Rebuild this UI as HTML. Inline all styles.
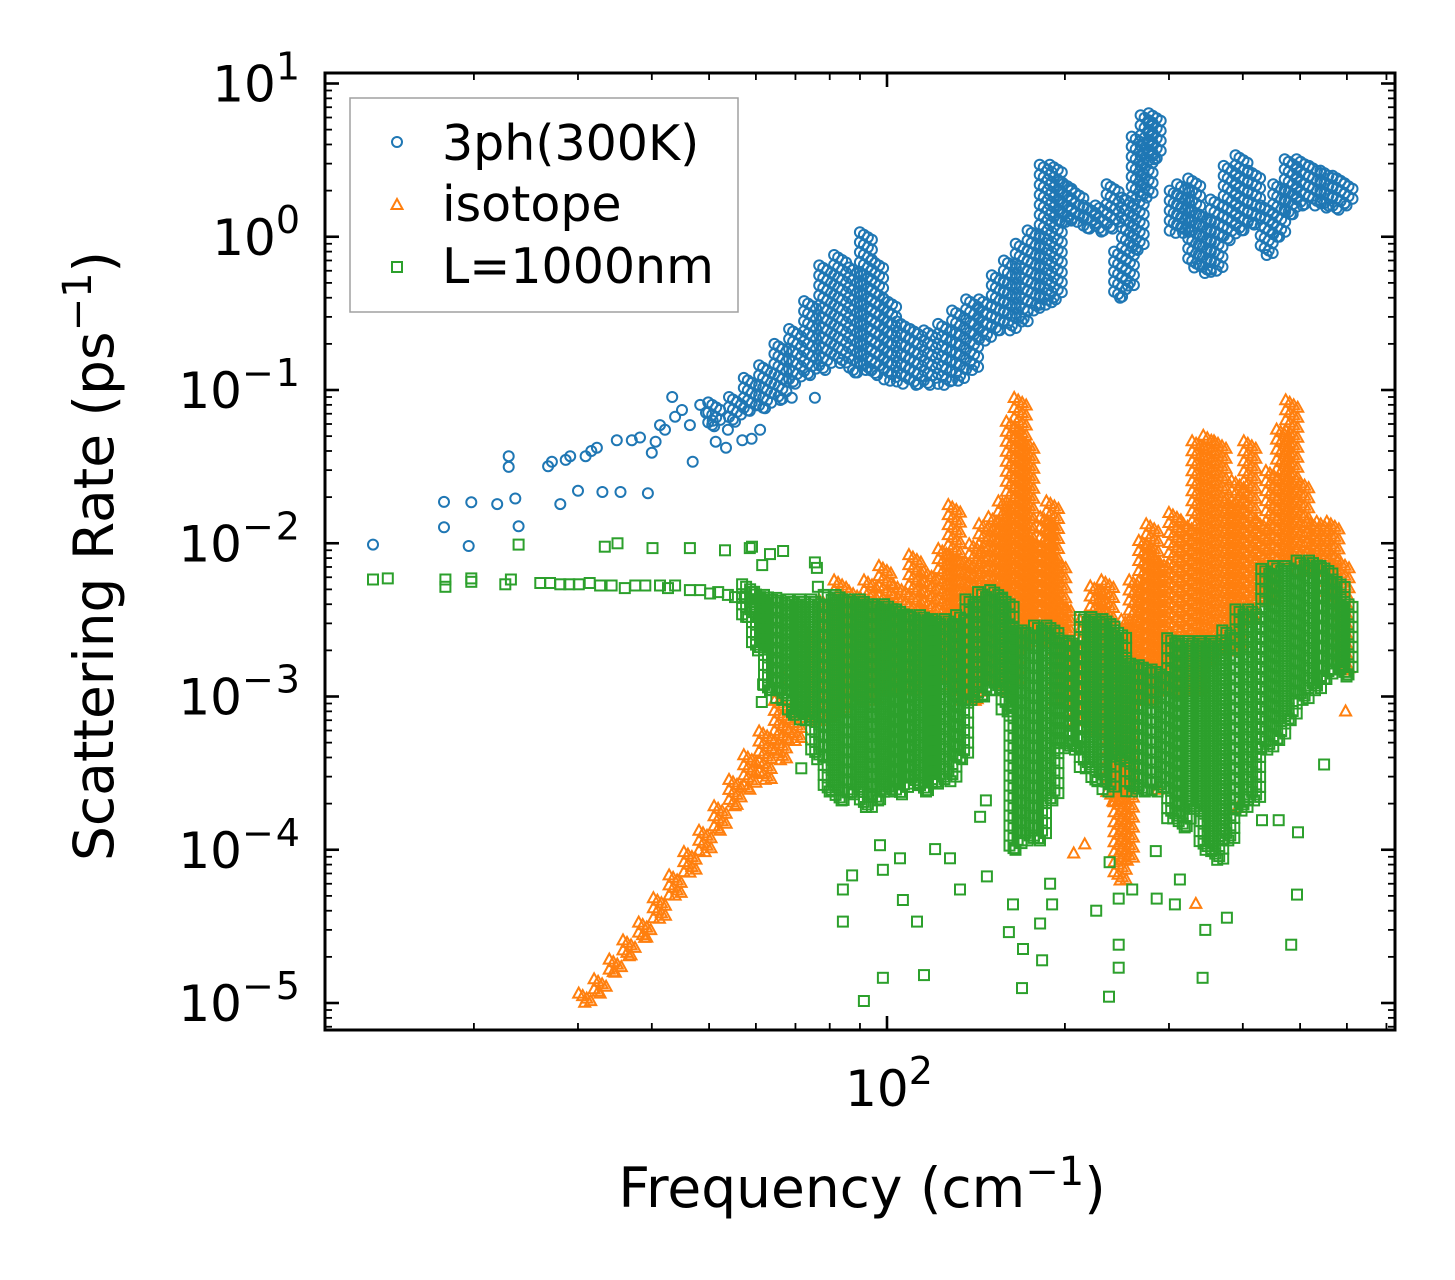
<!DOCTYPE html>
<html><head><meta charset="utf-8"><style>
html,body{margin:0;padding:0;background:#fff;}
svg{display:block;font-family:"DejaVu Sans","Liberation Sans",sans-serif;}
</style></head><body>
<svg id="chart" width="1455" height="1280" viewBox="0 0 1455 1280" xmlns="http://www.w3.org/2000/svg">
<rect width="1455" height="1280" fill="#fff"/>
<g id="marks"></g>
<g id="axes"></g>
<g>
<rect x="350" y="98" width="388" height="214" fill="#fff" stroke="#a0a0a0" stroke-width="1.5"/>
<circle cx="397" cy="142" r="5" fill="none" stroke="#1f77b4" stroke-width="2"/>
<text x="442" y="160" font-size="49">3ph(300K)</text>
<polygon points="397,199 402.5,209 391.5,209" fill="none" stroke="#ff7f0e" stroke-width="2"/>
<text x="442" y="221" font-size="49">isotope</text>
<rect x="392" y="262" width="10" height="10" fill="none" stroke="#2ca02c" stroke-width="2"/>
<text x="442" y="283" font-size="49">L=1000nm</text>
</g>
<text x="862" y="1207" font-size="55" text-anchor="middle">Frequency (cm<tspan dy="-22" font-size="40">−1</tspan><tspan dy="22">)</tspan></text>
<text transform="translate(113,556) rotate(-90)" font-size="55" text-anchor="middle">Scattering Rate (ps<tspan dy="-22" font-size="40">−1</tspan><tspan dy="22">)</tspan></text>
</svg>
<script>
// ---- data (frequency in cm^-1, rate in ps^-1) ----
const blueBandF=[51,55.3,58.6,62.2,66,69.9,74.1,78.6,83.3,88.3,92.1,96.2,101.2,106.4,112,118.2,124.9,131.9,139.3,146.5,154,161.4,169,177,185.6,193,200.5,210,220,230.6,240.8,248,255.6,265.6,275,283.8,308,317,331,345,361,380,398,418,439,461,482,505,530,554,581,599];
const blueBandHi=[0.083,0.09,0.12,0.145,0.2,0.25,0.38,0.65,0.76,0.63,1.07,0.7,0.39,0.28,0.25,0.245,0.27,0.33,0.39,0.39,0.56,0.7,0.9,1.1,2.95,2.95,2.3,2.0,1.6,1.6,2.2,0.8,1.8,4.5,6.2,6.4,2.0,2.2,2.4,1.4,1.75,2.9,3.4,2.7,1.6,2.2,3.2,3.2,2.9,2.7,2.5,2.3];
const blueBandLo=[0.058,0.062,0.073,0.076,0.086,0.11,0.125,0.135,0.15,0.13,0.135,0.125,0.115,0.11,0.108,0.108,0.108,0.115,0.135,0.21,0.245,0.245,0.28,0.33,0.36,0.39,1.25,1.25,1.13,1.08,1.13,0.4,0.48,0.82,1.8,3.2,1.06,1.06,0.63,0.58,0.6,0.95,1.1,1.2,0.76,1.0,1.4,1.6,1.6,1.55,1.5,1.6];
const bluePtF=[13.5,17.8,17.8,19.8,19.6,21.9,22.9,22.9,23.5,23.8,26.7,27.1,28,28.6,29.1,30,30.9,31.6,32.3,33,35.4,34.9,37,38.2,39.4,40,40.6,41.3,42.1,43.3,43.8,45,46.4,46.9,48.3,49.4,50.7,51.3,53.4,53.8,56.9,59,61,69,75.5];
const bluePtR=[0.0098,0.0186,0.0127,0.0185,0.0096,0.018,0.037,0.0315,0.0196,0.0129,0.0318,0.034,0.018,0.035,0.037,0.022,0.037,0.04,0.042,0.0216,0.0216,0.047,0.047,0.049,0.0212,0.039,0.046,0.059,0.055,0.09,0.067,0.074,0.059,0.034,0.08,0.071,0.063,0.046,0.042,0.055,0.047,0.048,0.055,0.089,0.089];

const isoBandF=[30.8,32.7,34.7,36.6,38.9,41.2,43.8,46.4,49.2,52.2,55.3,58.6,62.2,66,69.9,74.1,78.6,83.3,88.3,93.6,99.2,105,111.5,118,125,130,135.5,141,146.5,152,158,163,168,173,178,186,190.5,196,200,208,217,226,236,241,248,255,263,273,281,292,307,320,336,351,366,381,392,411,431,448,467,484,505,525,546,568,591];
const isoBandHi=[1.17e-5,1.45e-5,1.95e-5,2.6e-5,3.4e-5,4.9e-5,6.9e-5,9.8e-5,1.35e-4,1.95e-4,2.9e-4,4.2e-4,6e-4,9.5e-4,1.5e-3,2.7e-3,4.3e-3,5.8e-3,4.9e-3,5.8e-3,7.2e-3,5.4e-3,8.5e-3,6.6e-3,9.3e-3,1.8e-2,7.8e-3,1.0e-2,1.35e-2,1.5e-2,1.9e-2,6.3e-2,9e-2,4.7e-2,1.05e-2,1.5e-2,1.9e-2,7.8e-3,4.1e-3,2.3e-3,3.2e-3,5.3e-3,5.8e-3,2.3e-3,1.7e-3,3.2e-3,5.8e-3,1.05e-2,1.35e-2,7.8e-3,1.6e-2,1.4e-2,4.7e-2,5.1e-2,4.7e-2,1.9e-2,2.6e-2,4.7e-2,1.4e-2,3e-2,5.6e-2,8.7e-2,2.6e-2,1.4e-2,1.4e-2,1.4e-2,7.8e-3];
const isoBandLo=[1.02e-5,1.17e-5,1.6e-5,2.05e-5,2.7e-5,3.6e-5,5.1e-5,7.2e-5,9.8e-5,1.35e-4,1.95e-4,2.5e-4,2.9e-4,3.9e-4,5.2e-4,7e-4,7e-4,8e-4,9.5e-4,9.5e-4,1.1e-3,1.1e-3,1.1e-3,1.3e-3,1.3e-3,1.1e-3,9.5e-4,9.5e-4,1.3e-3,1.3e-3,1.1e-3,1.3e-3,2.0e-3,2.3e-3,2.3e-3,2.3e-3,2.3e-3,9.5e-4,9.5e-4,7e-4,7e-4,6e-4,5.2e-4,2.1e-4,6.4e-5,8.6e-5,9.5e-4,9.5e-4,9.5e-4,1.1e-3,1.1e-3,1.1e-3,1.1e-3,1.7e-3,2.0e-3,2.0e-3,2.0e-3,3.2e-3,4.3e-3,4.3e-3,7.8e-3,7.8e-3,6.6e-3,6.6e-3,6.6e-3,4.3e-3,1.5e-3];
const isoPtF=[597,207,216,333,287,392];
const isoPtR=[8.1e-4,9.6e-5,1.1e-4,4.5e-5,2.5e-4,1.9e-4];

const bndBandF=[58.2,60.5,63.4,66.5,69.6,72.9,76.2,80,83.8,87.9,92.1,96.6,101.2,106,111,116.4,122,128,134,139,146,153,160,165,173,181.5,190.5,199.5,208,217,227,237,248,260,273,287,305,319,331,346,362,378,398,418,440,461,482,505,530,554,581,599];
const bndBandHi=[5.4e-3,4.8e-3,4.6e-3,4.4e-3,4.3e-3,4.3e-3,4.3e-3,4.6e-3,4.6e-3,4.3e-3,4.3e-3,4e-3,4e-3,3.7e-3,3.4e-3,3.4e-3,3.2e-3,3.2e-3,3.4e-3,4.3e-3,4.8e-3,4.95e-3,4.3e-3,2.9e-3,2.7e-3,2.9e-3,2.9e-3,2.4e-3,2.3e-3,3.3e-3,3.3e-3,3.2e-3,2.7e-3,1.7e-3,1.6e-3,1.5e-3,2.4e-3,2.3e-3,2.3e-3,2.3e-3,2.3e-3,2.7e-3,3.7e-3,3.7e-3,6.8e-3,7.1e-3,7.1e-3,7.7e-3,7.7e-3,7.1e-3,5.8e-3,4.3e-3];
const bndBandLo=[3.3e-3,2.0e-3,1.1e-3,9.5e-4,7.6e-4,7e-4,3.9e-4,2.4e-4,2.1e-4,2.3e-4,1.9e-4,2.1e-4,2.4e-4,2.3e-4,2.7e-4,2.4e-4,2.7e-4,2.8e-4,3.9e-4,9.5e-4,1e-3,1.1e-3,8e-4,1e-4,1.15e-4,1.15e-4,2.1e-4,4.6e-4,4.5e-4,3.4e-4,2.8e-4,2.4e-4,3.9e-4,2.4e-4,2.4e-4,2.4e-4,1.6e-4,1.4e-4,1.85e-4,1e-4,8.6e-5,1.15e-4,1.8e-4,2.1e-4,4.5e-4,5.2e-4,7e-4,9.5e-4,1.1e-3,1.3e-3,1.5e-3,1.35e-3];
const bndPtF=[13.5,14.3,17.9,17.9,19.8,19.8,22.6,23.1,23.8,25.9,26.9,28,29,30.1,31.4,32.7,33.3,34.2,35,36,37.5,39,40.1,41.3,42.6,43.8,46.4,46.4,48.3,50.2,51.8,53.2,53.8,55.3,56.9,58.6,60.5,61.5,63.4];
const bndPtR=[5.8e-3,5.9e-3,5.2e-3,5.8e-3,5.6e-3,5.9e-3,5.4e-3,5.8e-3,9.8e-3,5.5e-3,5.5e-3,5.4e-3,5.4e-3,5.4e-3,5.5e-3,5.3e-3,9.5e-3,5.3e-3,1.0e-2,5.1e-3,5.3e-3,5.3e-3,9.3e-3,5.3e-3,5.1e-3,5.3e-3,9.3e-3,4.95e-3,4.95e-3,4.7e-3,4.8e-3,9e-3,4.6e-3,4.45e-3,4.4e-3,9.3e-3,4.3e-3,7.2e-3,8.5e-3];
const bndOutF=[97.3,105.2,87.3,84.2,84.2,98.4,106.4,112.4,98.4,91.4,115.5,120.6,132.9,147.6,127.8,147,143.7,163.4,160.8,169.9,169.2,183,190.3,188.8,181.6,225.9,246.6,246.6,237.5,246.6,286,260,313,307,345.6,342,376,494,483,549,496,431,460,238,285,71.6,61.4,61.7,76.1,66.7,59.1,75.5,76.4];
const bndOutR=[1.07e-4,8.8e-5,6.8e-5,5.5e-5,3.4e-5,7.4e-5,4.7e-5,3.4e-5,1.46e-5,1.03e-5,1.52e-5,1.01e-4,5.5e-5,6.7e-5,8.8e-5,2.1e-4,1.64e-4,4.4e-5,2.9e-5,2.25e-5,1.25e-5,1.9e-5,4.4e-5,6e-5,3.3e-5,4e-5,2.4e-5,1.7e-5,1.1e-5,4.8e-5,4.8e-5,5.5e-5,6.4e-5,4.4e-5,3.0e-5,1.46e-5,3.6e-5,5.1e-5,2.4e-5,3.6e-4,1.3e-4,1.56e-4,1.56e-4,8.3e-5,9.8e-5,3.4e-4,9.2e-4,1.2e-3,6.9e-3,8.9e-3,9.5e-3,7.5e-3,5.2e-3];

const yTickExps=[1,0,-1,-2,-3,-4,-5];
const yTickLabels=["1","0","−1","−2","−3","−4","−5"];
const xMajorVals=[100];
const xMajorLabels=["2"];

// ---- axes functions ----
const PL=325,PR=1395,PT=73,PB=1030;
function X(f){return 887+591*(Math.log10(f)-2);}
function Y(r){return 83.5+153.25*(1-Math.log10(r));}
const NS="http://www.w3.org/2000/svg";
const marks=document.getElementById('marks');
const axes=document.getElementById('axes');

function marker(kind,x,y,parent){
  let el;
  if(kind==='blue'){
    el=document.createElementNS(NS,'circle');
    el.setAttribute('cx',x.toFixed(1));el.setAttribute('cy',y.toFixed(1));el.setAttribute('r','5');
    el.setAttribute('fill','none');el.setAttribute('stroke','#1f77b4');el.setAttribute('stroke-width','2');
    
  }else if(kind==='orange'){
    el=document.createElementNS(NS,'polygon');
    el.setAttribute('points',`${x.toFixed(1)},${(y-5).toFixed(1)} ${(x+5.5).toFixed(1)},${(y+5).toFixed(1)} ${(x-5.5).toFixed(1)},${(y+5).toFixed(1)}`);
    el.setAttribute('fill','none');el.setAttribute('stroke','#ff7f0e');el.setAttribute('stroke-width','2');
    
  }else{
    el=document.createElementNS(NS,'rect');
    el.setAttribute('x',(x-5).toFixed(1));el.setAttribute('y',(y-5).toFixed(1));el.setAttribute('width','10');el.setAttribute('height','10');
    el.setAttribute('fill','none');el.setAttribute('stroke','#2ca02c');el.setAttribute('stroke-width','2');
    
  }
  
  parent.appendChild(el);
}
const subOffsets=[-6,-2,2,6];
function drawBand(kind,F,Hi,Lo,g){
  for(let i=0;i<F.length;i++){
    const x=X(F[i]),y0=Y(Hi[i]),y1=Y(Lo[i]);
    let k=0;
    for(let y=y0;y<=y1+0.1;y+=2.5){marker(kind,x+subOffsets[k%4],y,g);k++;}
    marker(kind,x,y1,g);
  }
}
function drawPts(kind,F,R,g){for(let i=0;i<F.length;i++)marker(kind,X(F[i]),Y(R[i]),g);}
function group(name){const g=document.createElementNS(NS,'g');
  
  
  marks.appendChild(g);return g;}

const gb=group('series-3ph');
drawBand('blue',blueBandF,blueBandHi,blueBandLo,gb);drawPts('blue',bluePtF,bluePtR,gb);
const go=group('series-isotope');
drawBand('orange',isoBandF,isoBandHi,isoBandLo,go);drawPts('orange',isoPtF,isoPtR,go);
const gg=group('series-boundary');
drawBand('green',bndBandF,bndBandHi,bndBandLo,gg);drawPts('green',bndPtF,bndPtR,gg);drawPts('green',bndOutF,bndOutR,gg);

// ---- axes ----
function line(x1,y1,x2,y2,w,name){const l=document.createElementNS(NS,'line');
  l.setAttribute('x1',x1);l.setAttribute('y1',y1);l.setAttribute('x2',x2);l.setAttribute('y2',y2);
  l.setAttribute('stroke','#000');l.setAttribute('stroke-width',w);
  
  
  axes.appendChild(l);}
for(let d=-6;d<=1;d++){
  for(let m=1;m<10;m++){
    const v=m*Math.pow(10,d);const y=Y(v);
    if(y<PT||y>PB)continue;
    const len=(m===1)?14:7,w=(m===1)?2.6:1.8;
    line(PL,y,PL+len,y,w,m===1?'y-major-tick':'y-minor-tick');
    line(PR,y,PR-len,y,w,m===1?'y-major-tick':'y-minor-tick');
  }
}
for(let d=1;d<=2;d++){
  for(let m=1;m<10;m++){
    const v=m*Math.pow(10,d);const x=X(v);
    if(x<PL||x>PR)continue;
    const len=(m===1)?14:7,w=(m===1)?2.6:1.8;
    line(x,PB,x,PB-len,w,m===1?'x-major-tick':'x-minor-tick');
    line(x,PT,x,PT+len,w,m===1?'x-major-tick':'x-minor-tick');
  }
}
const frame=document.createElementNS(NS,'rect');
frame.setAttribute('x',PL);frame.setAttribute('y',PT);frame.setAttribute('width',PR-PL);frame.setAttribute('height',PB-PT);
frame.setAttribute('fill','none');frame.setAttribute('stroke','#000');frame.setAttribute('stroke-width','3');


axes.appendChild(frame);
for(let i=0;i<yTickExps.length;i++){
  const y=Y(Math.pow(10,yTickExps[i]));
  const t=document.createElementNS(NS,'text');
  t.setAttribute('x','302');t.setAttribute('y',(y+18).toFixed(1));t.setAttribute('text-anchor','end');t.setAttribute('font-size','50');
  t.innerHTML='10<tspan dy="-22" font-size="38" letter-spacing="2">'+yTickLabels[i]+'</tspan>';
  
  
  axes.appendChild(t);
}
for(let i=0;i<xMajorVals.length;i++){
  const t=document.createElementNS(NS,'text');
  t.setAttribute('x',(X(xMajorVals[i])+2).toFixed(1));t.setAttribute('y','1106');t.setAttribute('text-anchor','middle');t.setAttribute('font-size','50');
  t.innerHTML='10<tspan dy="-22" font-size="38">'+xMajorLabels[i]+'</tspan>';
  
  
  axes.appendChild(t);
}
</script>
</body></html>
